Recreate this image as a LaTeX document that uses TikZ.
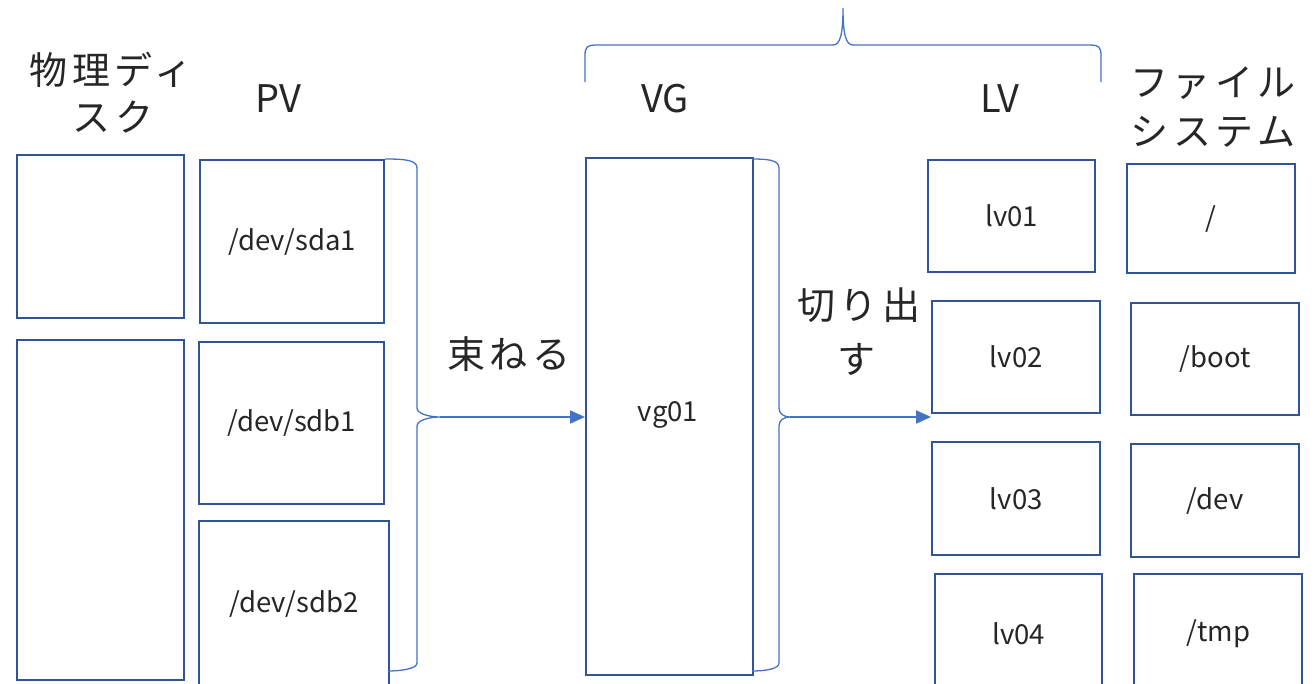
\documentclass[tikz,border=0pt]{standalone}
\usepackage{fontspec}
\setmainfont{Noto Sans CJK JP}
\newfontfamily\jpwide[LetterSpace=12]{Noto Sans CJK JP}
\usetikzlibrary{arrows.meta}
\definecolor{boxblue}{HTML}{2F5597}
\definecolor{lineblue}{HTML}{4472C4}
\definecolor{ink}{HTML}{262626}
\tikzset{
  box/.style={draw=boxblue, line width=2.4pt, rectangle, inner sep=0pt,
    anchor=north west, text=ink, font=\fontsize{27.5}{32}\selectfont},
  head/.style={text=ink, font=\fontsize{38}{46}\selectfont, inner sep=0pt},
  jphead/.style={text=ink, font=\jpwide\fontsize{38}{46}\selectfont, inner sep=0pt},
  brace/.style={draw=lineblue, line width=1.3pt},
  flow/.style={draw=lineblue, line width=2pt, -{Triangle[length=15pt,width=13pt]}},
}
\begin{document}
\begin{tikzpicture}[x=1pt, y=-1pt]
\useasboundingbox (0,0) rectangle (1314,683);

% physical disks
\node[box, minimum width=167pt, minimum height=163pt] (d1) at (16,154) {};
\node[box, minimum width=167pt, minimum height=340pt] (d2) at (16,339) {};

% physical volumes
\node[box, minimum width=184pt, minimum height=163pt] (pv1) at (199,159) {/dev/sda1};
\node[box, minimum width=185pt, minimum height=162pt] (pv2) at (198,341) {/dev/sdb1};
\node[box, minimum width=190pt, minimum height=166pt] (pv3) at (198,520) {/dev/sdb2};

% volume group
\node[box, minimum width=167pt, minimum height=517pt] (vg) at (585,157) {};
\node[text=ink, font=\fontsize{27.5}{32}\selectfont, inner sep=0pt] (vgl) at (668,415) {vg01};

% logical volumes
\node[box, minimum width=167pt, minimum height=112pt] (lv1) at (927,159) {lv01};
\node[box, minimum width=168pt, minimum height=112pt] (lv2) at (931,300) {lv02};
\node[box, minimum width=168pt, minimum height=113pt] (lv3) at (931,441) {lv03};
\node[box, minimum width=167pt, minimum height=120pt] (lv4) at (934,573) {lv04};

% file systems
\node[box, minimum width=168pt, minimum height=109pt] (fs1) at (1126,163) {/};
\node[box, minimum width=168pt, minimum height=112pt] (fs2) at (1130,302) {/boot};
\node[box, minimum width=168pt, minimum height=113pt] (fs3) at (1130,443) {/dev};
\node[box, minimum width=168pt, minimum height=120pt] (fs4) at (1133,573) {/tmp};

% column headings
\node[jphead] (hdisk1) at (111,70) {物理ディ};
\node[jphead] (hdisk2) at (113,117) {スク};
\node[head] (hpv) at (278,99) {PV};
\node[head] (hvg) at (665,99) {VG};
\node[head] (hlv) at (1000,99) {LV};
\node[jphead] (hfs1) at (1213,83) {ファイル};
\node[jphead] (hfs2) at (1213,132) {システム};

% operations
\node[jphead] (bundle) at (509,354) {束ねる};
\node[jphead] (carve1) at (859,305) {切り出};
\node[jphead] (carve2) at (856,359) {す};

% brace over the physical volumes
\coordinate (b1) at (440,417);
\draw[brace] (385,159) .. controls (405,159) and (417,160) .. (417,168)
  -- (417,408) .. controls (417,414) and (430,417) .. (b1)
  .. controls (430,417) and (417,420) .. (417,426)
  -- (417,663) .. controls (417,669) and (400,671) .. (388,671);

% brace over the volume group
\coordinate (b2) at (790,417);
\draw[brace] (752,159) .. controls (768,159) and (779,160) .. (779,168)
  -- (779,408) .. controls (779,414) and (784,417) .. (b2)
  .. controls (784,417) and (779,420) .. (779,426)
  -- (779,663) .. controls (779,669) and (765,671) .. (752,671);

% brace spanning VG and LV
\draw[brace] (585,82) -- (585,55) .. controls (585,47) and (588,45) .. (595,45)
  -- (833,45) .. controls (840,45) and (843,35) .. (843,8)
  .. controls (843,35) and (846,45) .. (853,45)
  -- (1091,45) .. controls (1098,45) and (1101,47) .. (1101,55) -- (1101,82);

% flows
\draw[flow] (b1) -- (vg.west |- b1);
\draw[flow] (b2) -- (lv2.west |- b2);
\end{tikzpicture}
\end{document}
